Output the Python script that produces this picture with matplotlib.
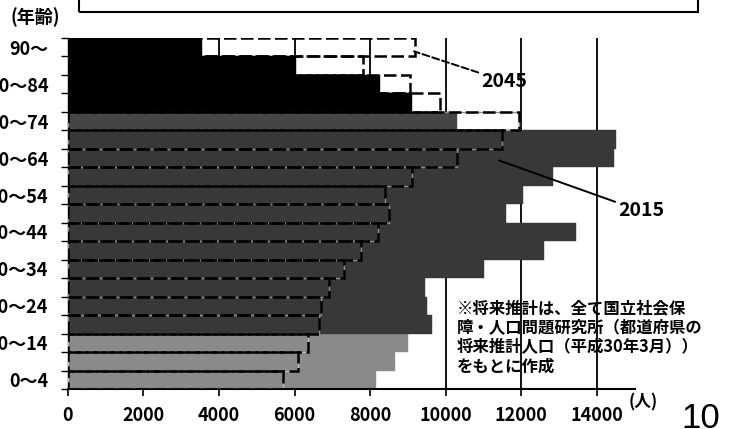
import numpy as np
import matplotlib
matplotlib.use("Agg")
import matplotlib.pyplot as plt
from matplotlib.patches import Rectangle

plt.rcParams['font.family'] = ['Noto Sans CJK JP', 'DejaVu Sans']

# ---- data (bottom -> top) ----
age_groups = ['0～4', '5～9', '10～14', '15～19', '20～24', '25～29', '30～34',
              '35～39', '40～44', '45～49', '50～54', '55～59', '60～64',
              '65～69', '70～74', '75～79', '80～84', '85～89', '90～']
pop_2015 = [8150, 8650, 9000, 9650, 9500, 9450, 11000, 12600, 13450, 11600,
            12050, 12850, 14450, 14500, 10300, 9100, 8250, 6050, 3550]
pop_2045 = [5700, 6100, 6350, 6650, 6700, 6900, 7300, 7750, 8200, 8500,
            8400, 9100, 10300, 11500, 11950, 9850, 9050, 7800, 9200]
x_ticks = [0, 2000, 4000, 6000, 8000, 10000, 12000, 14000]
label_idx = list(range(0, 19, 2))

note_lines = ['※将来推計は、全て国立社会保',
              '障・人口問題研究所（都道府県の',
              '将来推計人口（平成30年3月））',
              'をもとに作成']

# ---- styles ----
bar_colors = ['#8a8a8a'] * 3 + ['#383838'] * 11 + ['#454545'] + ['#000000'] * 4
under_edges = ['#b8b8b8'] * 3 + ['#8a8a8a'] * 12 + ['none'] * 4

W, H = 735, 429
fig = plt.figure(figsize=(W / 100, H / 100), dpi=100)
x0, x1, ytop, ybot = 67.7, 634.7, 38, 389
ax = fig.add_axes([x0 / W, 1 - ybot / H, (x1 - x0) / W, (ybot - ytop) / H])

y = np.arange(len(age_groups))
ax.barh(y, pop_2015, height=1.0, color=bar_colors, edgecolor=bar_colors,
        linewidth=0.3, zorder=2)
ax.barh(y, pop_2045, height=1.0, fill=False, edgecolor=under_edges,
        linewidth=1.0, zorder=3)
ax.barh(y, pop_2045, height=1.0, fill=False, edgecolor='black',
        linewidth=1.8, linestyle=(0, (5.0, 1.8)), zorder=4)

ax.set_xlim(0, 15000)
ax.set_ylim(-0.5, len(age_groups) - 0.5)

ax.set_xticks(x_ticks)
ax.set_xticklabels([str(v) for v in x_ticks], fontsize=13, fontweight='bold')
ax.tick_params(axis='x', direction='out', length=5, width=1.2, pad=7)
ax.xaxis.grid(True, color='black', linewidth=1.3, zorder=1)
ax.set_axisbelow(True)

ax.set_yticks(np.arange(-0.5, len(age_groups), 1.0))
ax.set_yticklabels([])
ax.tick_params(axis='y', which='major', direction='out', length=5, width=1.0)
ax.set_yticks(label_idx, minor=True)
ax.set_yticklabels([age_groups[i] for i in label_idx], minor=True,
                   fontsize=13, fontweight='bold')
ax.tick_params(axis='y', which='minor', length=0, pad=14)

for s in ['top', 'right']:
    ax.spines[s].set_visible(False)
ax.spines['bottom'].set_linewidth(1.5)
ax.spines['left'].set_linewidth(1.0)


def px(xp, yp):
    """pixel position -> data coords"""
    xd = (xp - x0) / (x1 - x0) * 15000
    yd = (len(age_groups) - 0.5) - (yp - ytop) / (ybot - ytop) * len(age_groups)
    return xd, yd


ax.annotate('2045', xy=px(410, 50), xytext=px(504, 81), ha='center', va='center',
            fontsize=14, fontweight='bold', zorder=6,
            arrowprops=dict(arrowstyle='-', color='black', lw=1.4,
                            linestyle='--', shrinkA=0, shrinkB=3))
ax.annotate('2015', xy=px(495, 159), xytext=px(641, 211), ha='center', va='center',
            fontsize=14, fontweight='bold', zorder=6, annotation_clip=False,
            arrowprops=dict(arrowstyle='-', color='black', lw=1.4,
                            shrinkA=0, shrinkB=3))

# ---- texts outside / over the plot ----
fig.text(35 / W, 1 - 17 / H, '(年齢)', ha='center', va='center',
         fontsize=13, fontweight='bold')
fig.text(643 / W, 1 - 402 / H, '(人)', ha='center', va='center',
         fontsize=12, fontweight='bold')
fig.text(701 / W, 1 - 428 / H, '10', ha='center', va='baseline',
         fontsize=25, family=['Liberation Sans', 'DejaVu Sans'])
for k, line in enumerate(note_lines):
    fig.text(457 / W, 1 - (308 + 19.5 * k) / H, line, ha='left', va='center',
             fontsize=11.8, fontweight='bold')

# box at the top (cropped title frame)
fig.add_artist(Rectangle((79 / W, 1 - 11.5 / H), (698 - 79) / W, 20 / H,
                         transform=fig.transFigure, fill=False,
                         edgecolor='black', linewidth=1.5, clip_on=False))

fig.savefig('out.png', dpi=100)
